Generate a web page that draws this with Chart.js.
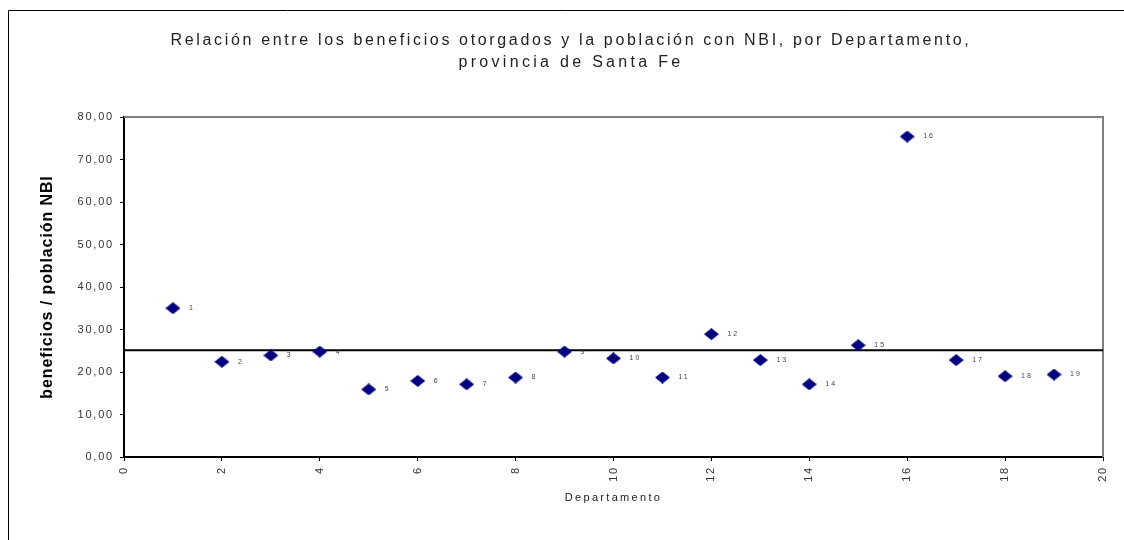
<!DOCTYPE html>
<html>
<head>
<meta charset="utf-8">
<script src="https://cdn.jsdelivr.net/npm/chart.js@4.4.1/dist/chart.umd.min.js"></script>
<style>
  html, body { margin: 0; padding: 0; background: #fff; }
</style>
</head>
<body>
<canvas id="grafico" width="1124" height="540"></canvas>
<script>
// Datos: beneficios / población con NBI por departamento
const departamentos = [1, 2, 3, 4, 5, 6, 7, 8, 9, 10, 11, 12, 13, 14, 15, 16, 17, 18, 19];
const beneficiosNBI = [35.0, 22.4, 23.9, 24.8, 15.9, 17.9, 17.1, 18.7, 24.8, 23.2, 18.7, 28.9, 22.8, 17.1, 26.3, 75.4, 22.8, 19.0, 19.4];
// Línea del promedio provincial
const promedioX = [0, 20];
const promedioY = [25.1, 25.1];
// Marcas de los ejes
const ticksX = [0, 2, 4, 6, 8, 10, 12, 14, 16, 18, 20];
const ticksY = [0, 10, 20, 30, 40, 50, 60, 70, 80];

const titulo = [
    'Relación entre los beneficios otorgados y la población con NBI, por Departamento,',
    'provincia de Santa Fe'
];
const tituloY = 'beneficios / población NBI';
const tituloX = 'Departamento';

const fuente = '"Liberation Sans", Arial, sans-serif';

// Rombo azul marino como marcador
const rombo = document.createElement('canvas');
rombo.width = 15;
rombo.height = 12;
const rc = rombo.getContext('2d');
rc.fillStyle = '#000080';
rc.beginPath();
rc.moveTo(0, 6);
rc.lineTo(7.5, 0);
rc.lineTo(15, 6);
rc.lineTo(7.5, 12);
rc.closePath();
rc.fill();

// Títulos, marco y etiquetas de los puntos
const decorado = {
    id: 'decorado',
    beforeDraw(chart) {
        const ctx = chart.ctx;
        ctx.save();
        ctx.fillStyle = '#fff';
        ctx.fillRect(0, 0, chart.width, chart.height);
        ctx.strokeStyle = '#000';
        ctx.lineWidth = 1;
        ctx.beginPath();
        ctx.moveTo(8.5, chart.height);
        ctx.lineTo(8.5, 10.5);
        ctx.lineTo(chart.width, 10.5);
        ctx.stroke();
        ctx.restore();
        ctx.letterSpacing = '1.8px';
    },
    beforeDatasetsDraw(chart) {
        const ctx = chart.ctx;
        const a = chart.chartArea;
        ctx.save();
        ctx.strokeStyle = '#808080';
        ctx.lineWidth = 2;
        ctx.beginPath();
        ctx.moveTo(a.left, a.top);
        ctx.lineTo(a.right, a.top);
        ctx.lineTo(a.right, a.bottom);
        ctx.stroke();
        ctx.restore();
    },
    afterDraw(chart) {
        const ctx = chart.ctx;
        const a = chart.chartArea;
        ctx.save();

        ctx.fillStyle = '#222';
        ctx.textAlign = 'center';
        ctx.textBaseline = 'middle';
        ctx.font = '16px ' + fuente;
        const espaciado = ['2.65px', '3.3px'];
        titulo.forEach((t, i) => {
            ctx.letterSpacing = espaciado[i];
            ctx.fillText(t, 571, 41 + i * 22);
        });

        ctx.font = '11px ' + fuente;
        ctx.letterSpacing = '2.3px';
        ctx.fillText(tituloX, (a.left + a.right) / 2, 498);

        ctx.save();
        ctx.translate(48, (a.top + a.bottom) / 2);
        ctx.rotate(-Math.PI / 2);
        ctx.font = 'bold 16px ' + fuente;
        ctx.letterSpacing = '0.9px';
        ctx.fillStyle = '#000';
        ctx.fillText(tituloY, 0, 0);
        ctx.restore();

        ctx.font = '7px ' + fuente;
        ctx.letterSpacing = '2px';
        ctx.fillStyle = '#444';
        ctx.textAlign = 'left';
        chart.getDatasetMeta(0).data.forEach((p, i) => {
            ctx.fillText(String(departamentos[i]), p.x + 16, p.y);
        });
        ctx.restore();
    }
};

const ctx = document.getElementById('grafico').getContext('2d');

new Chart(ctx, {
    data: {
        datasets: [
            {
                type: 'scatter',
                data: departamentos.map((d, i) => ({ x: d, y: beneficiosNBI[i] })),
                pointStyle: rombo,
                pointRadius: 7,
                backgroundColor: '#000080',
                borderColor: '#000080',
                order: 1
            },
            {
                type: 'line',
                data: promedioX.map((x, i) => ({ x: x, y: promedioY[i] })),
                borderColor: '#000',
                borderWidth: 2,
                pointRadius: 0,
                order: 2
            }
        ]
    },
    options: {
        responsive: false,
        animation: false,
        devicePixelRatio: 1,
        layout: { padding: { top: 117, right: 21, left: 0, bottom: 0 } },
        plugins: {
            legend: { display: false },
            tooltip: { enabled: false }
        },
        scales: {
            x: {
                type: 'linear',
                min: 0,
                max: 20,
                afterBuildTicks: s => { s.ticks = ticksX.map(v => ({ value: v })); },
                afterFit: s => { s.height = 83; },
                border: { color: '#000', width: 2 },
                grid: { drawOnChartArea: false, tickLength: 4, color: '#000' },
                ticks: {
                    autoSkip: false,
                    minRotation: 90,
                    maxRotation: 90,
                    padding: 5,
                    color: '#333',
                    font: { family: fuente, size: 11 }
                }
            },
            y: {
                type: 'linear',
                min: 0,
                max: 80,
                afterBuildTicks: s => { s.ticks = ticksY.map(v => ({ value: v })); },
                afterFit: s => { s.width = 124; },
                border: { color: '#000', width: 2 },
                grid: { drawOnChartArea: false, tickLength: 4, color: '#000' },
                ticks: {
                    autoSkip: false,
                    padding: 6,
                    color: '#333',
                    font: { family: fuente, size: 11 },
                    callback: v => v.toFixed(2).replace('.', ',')
                }
            }
        }
    },
    plugins: [decorado]
});
</script>
</body>
</html>
